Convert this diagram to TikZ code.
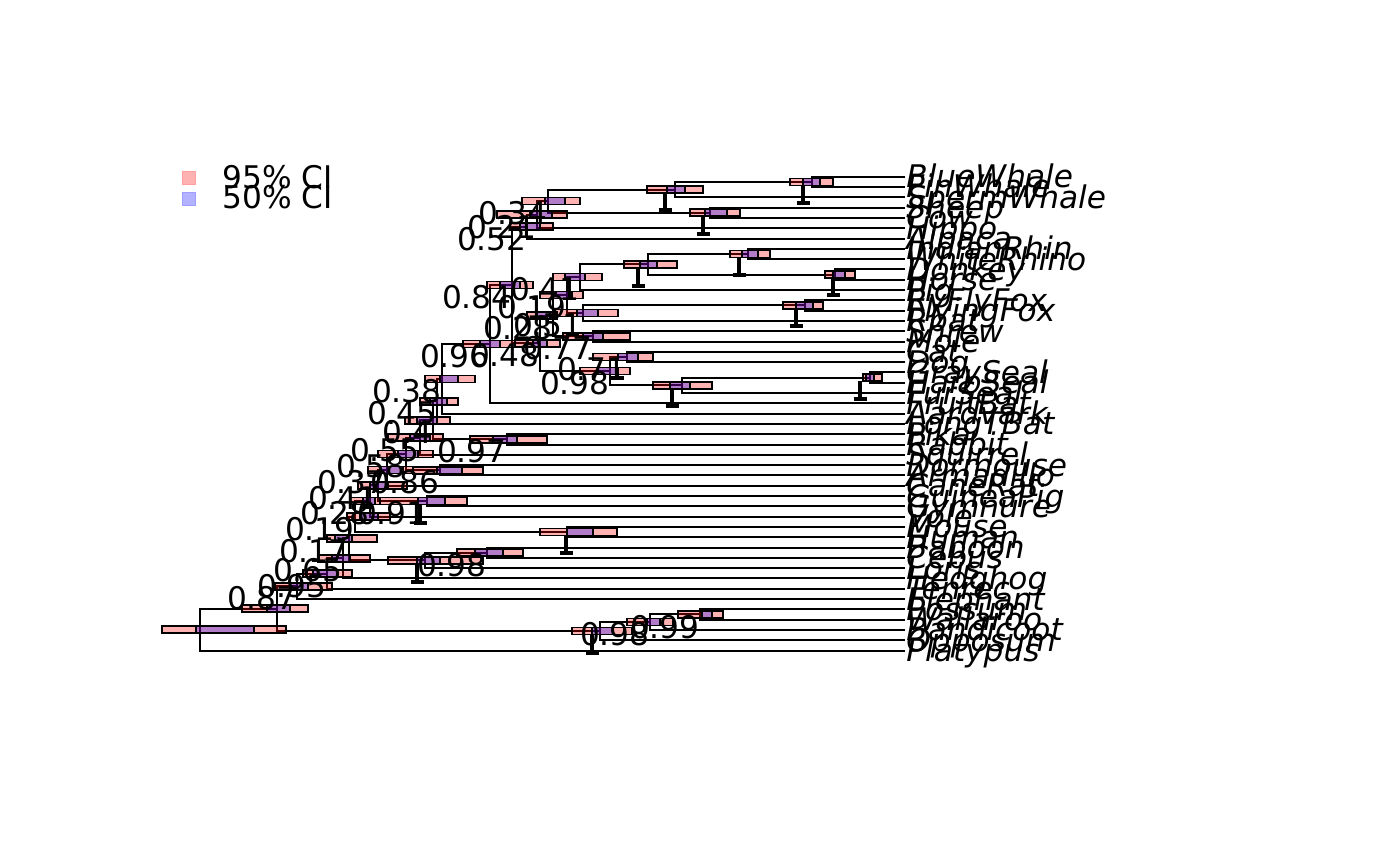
\documentclass[tikz,border=0pt]{standalone}
\usepackage{fontspec}
\setmainfont{DejaVu Sans}
\usepackage{tikz}
\usetikzlibrary{calc}

\tikzset{
  branch/.style={line width=1pt},
  ci95/.style={draw=black, line width=0.8pt, fill=red, fill opacity=0.3},
  ci50/.style={draw=black, line width=0.8pt, fill=blue, fill opacity=0.3},
  errbar/.style={line width=1.6pt},
  tiplab/.style={anchor=base west, inner sep=0pt, font=\fontsize{15.6}{18}\selectfont\itshape},
  supp/.style={anchor=north east, inner sep=0pt, font=\fontsize{15.6}{18}\selectfont},
  legtext/.style={anchor=base west, inner sep=0pt, font=\fontsize{15.6}{18}\selectfont},
}

% box of the 95% and 50% intervals round a node: node, x95l, x50l, x50r, x95r
\newcommand{\cibox}[5]{%
  \draw[ci95] let \p1=(#1) in ({#2*0.5pt},\y1+1.75pt) rectangle ({#5*0.5pt},\y1-1.75pt);
  \draw[ci50] let \p1=(#1) in ({#3*0.5pt},\y1+1.75pt) rectangle ({#4*0.5pt},\y1-1.75pt);}
% error bar under a node: node, x, lower end
\newcommand{\errbar}[3]{%
  \draw[errbar] let \p1=(#1) in ({#2*0.5pt},\y1-1.75pt) -- ({#2*0.5pt},{-#3*0.5pt})
    ({(#2-6.5)*0.5pt},{-#3*0.5pt}) -- ({(#2+6.5)*0.5pt},{-#3*0.5pt});}

\begin{document}
\begin{tikzpicture}[x=0.5pt, y=-0.5pt]
\useasboundingbox (0,0) rectangle (1400,866);

% tips
\foreach \nm [count=\i] in {BlueWhale,FinWhale,SpermWhale,Sheep,Cow,Hippo,Alpaca,
  IndianRhin,WhiteRhino,Donkey,Horse,Pig,RyFlyFox,FlyingFox,Rbat,Shrew,Mole,Cat,Dog,
  GraySeal,HarbSeal,FurSeal,FruitBat,Aardvark,LongTBat,Pika,Rabbit,Squirrel,Dormouse,
  Armadillo,CaneRat,GuineaPig,Gymnure,Vole,Mouse,Human,Baboon,Cebus,Loris,Hedghog,
  Tenrec,Elephant,Possum,Wallaroo,Bandicoot,Opposum,Platypus}{
  \coordinate (t\i) at (905,{176.7+10.3*(\i-1)});
  \node[tiplab] (lab\i) at ([xshift=0.5pt,yshift=-5.5pt]t\i) {\nm};
}

% internal nodes
\coordinate (baleen) at (812,181.85);
\coordinate (whale) at (675,189.58);
\coordinate (bovid) at (710,212.75);
\coordinate (cetru) at (548,201.16);
\coordinate (hippo) at (537,214.68);
\coordinate (artio) at (527,226.59);
\coordinate (rhino) at (748,253.95);
\coordinate (equid) at (835,274.55);
\coordinate (peris) at (648,264.25);
\coordinate (pig) at (580,277.13);
\coordinate (flyfox) at (805,305.45);
\coordinate (rbat) at (583,313.18);
\coordinate (ungbat) at (567,295.15);
\coordinate (eulip) at (593,336.35);
\coordinate (lau1) at (553,315.75);
\coordinate (catdog) at (627,356.95);
\coordinate (seal2) at (870,377.55);
\coordinate (seal3) at (682,385.28);
\coordinate (carn) at (610,371.11);
\coordinate (lau2) at (540,343.43);
\coordinate (lau3) at (512,285.01);
\coordinate (frbat) at (490,344.16);
\coordinate (aard) at (442,378.88);
\coordinate (ltbat) at (437,401.39);
\coordinate (lago) at (507,439.35);
\coordinate (glir1) at (433,420.37);
\coordinate (sqrl) at (420,437.59);
\coordinate (dorm) at (440,470.25);
\coordinate (glir2) at (406,453.92);
\coordinate (armd) at (387,469.81);
\coordinate (cavi) at (427,501.15);
\coordinate (glir3) at (378,485.48);
\coordinate (gymn) at (370,501.04);
\coordinate (murid) at (567,532.05);
\coordinate (glir4) at (355,516.55);
\coordinate (anth) at (487,552.65);
\coordinate (prim) at (425,560.38);
\coordinate (euar) at (349,538.46);
\coordinate (hedg) at (343,558.43);
\coordinate (tenr) at (327,573.57);
\coordinate (eleph) at (297,586.28);
\coordinate (macro) at (700,614.45);
\coordinate (band) at (650,622.18);
\coordinate (marsu) at (600,631.19);
\coordinate (ther) at (277,608.73);
\coordinate (root) at (200,629.62);

% branches
\foreach \p/\a/\b in {baleen/t1/t2, whale/baleen/t3, bovid/t4/t5, cetru/whale/bovid,
  hippo/cetru/t6, artio/hippo/t7, rhino/t8/t9, equid/t10/t11, peris/rhino/equid,
  pig/peris/t12, flyfox/t13/t14, rbat/flyfox/t15, ungbat/pig/rbat, eulip/t16/t17,
  lau1/ungbat/eulip, catdog/t18/t19, seal2/t20/t21, seal3/seal2/t22, carn/catdog/seal3,
  lau2/lau1/carn, lau3/artio/lau2, frbat/lau3/t23, aard/frbat/t24, ltbat/aard/t25,
  lago/t26/t27, glir1/ltbat/lago, sqrl/glir1/t28, dorm/t29/t30, glir2/sqrl/dorm,
  armd/glir2/t31, cavi/t32/t33, glir3/armd/cavi, gymn/glir3/t34, murid/t35/t36,
  glir4/gymn/murid, anth/t37/t38, prim/anth/t39, euar/glir4/prim, hedg/euar/t40,
  tenr/hedg/t41, eleph/tenr/t42, macro/t43/t44, band/macro/t45, marsu/band/t46,
  ther/eleph/marsu, root/ther/t47}
  \draw[branch] (\a) -| (\p) |- (\b);

% node age intervals
\cibox{baleen}{790}{803}{820}{833}
\cibox{whale}{647}{667}{685}{703}
\cibox{bovid}{690}{705}{727}{740}
\cibox{cetru}{522}{545}{565}{580}
\cibox{hippo}{497}{530}{552}{567}
\cibox{artio}{510}{520}{540}{553}
\cibox{rhino}{730}{742}{758}{770}
\cibox{equid}{825}{833}{845}{855}
\cibox{peris}{624}{640}{657}{677}
\cibox{pig}{553}{565}{585}{602}
\cibox{flyfox}{783}{796}{813}{823}
\cibox{rbat}{555}{577}{598}{618}
\cibox{ungbat}{540}{553}{572}{583}
\cibox{eulip}{563}{583}{603}{630}
\cibox{lau1}{527}{537}{550}{557}
\cibox{catdog}{593}{618}{638}{653}
\cibox{seal2}{863}{866}{874}{882}
\cibox{seal3}{653}{670}{690}{712}
\cibox{carn}{580}{598}{618}{630}
\cibox{lau2}{515}{533}{547}{560}
\cibox{lau3}{487}{500}{520}{533}
\cibox{frbat}{463}{480}{500}{515}
\cibox{aard}{425}{440}{458}{475}
\cibox{ltbat}{420}{430}{447}{458}
\cibox{lago}{470}{493}{517}{547}
\cibox{glir1}{405}{417}{437}{450}
\cibox{sqrl}{388}{410}{430}{443}
\cibox{dorm}{413}{437}{462}{483}
\cibox{glir2}{378}{398}{418}{433}
\cibox{armd}{368}{380}{403}{413}
\cibox{cavi}{380}{418}{445}{467}
\cibox{glir3}{358}{370}{388}{407}
\cibox{gymn}{350}{363}{375}{380}
\cibox{murid}{540}{567}{593}{617}
\cibox{glir4}{347}{360}{378}{390}
\cibox{anth}{457}{475}{503}{523}
\cibox{prim}{388}{417}{440}{483}
\cibox{euar}{327}{335}{352}{377}
\cibox{hedg}{318}{332}{350}{370}
\cibox{tenr}{303}{313}{337}{352}
\cibox{eleph}{275}{290}{308}{332}
\cibox{macro}{678}{702}{712}{723}
\cibox{band}{627}{647}{660}{673}
\cibox{marsu}{572}{592}{613}{632}
\cibox{ther}{242}{267}{290}{308}
\cibox{root}{162}{196}{254}{286}

% error bars
\errbar{baleen}{803}{203}
\errbar{whale}{665}{210}
\errbar{bovid}{703}{234}
\errbar{rhino}{739}{275}
\errbar{equid}{833}{295}
\errbar{peris}{638}{286}
\errbar{flyfox}{796}{326}
\errbar{seal2}{860}{399}
\errbar{seal3}{672}{406}
\errbar{carn}{617}{378}
\errbar{murid}{566}{553}
\errbar{prim}{417}{582}
\errbar{cavi}{420}{523}
\errbar{marsu}{592}{653}

% support values
\foreach \p/\v in {cetru/0.34, hippo/0.21, artio/0.52, pig/0.41, ungbat/0.19, rbat/0.51,
  lau1/0.28, eulip/0.77, catdog/0.71, carn/0.98, lau2/0.48, lau3/0.84, frbat/0.96,
  aard/0.38, ltbat/0.45, glir1/0.4, lago/0.97, sqrl/0.55, glir2/0.58, armd/0.37,
  dorm/0.86, glir3/0.41, gymn/0.28, cavi/0.91, glir4/0.19, euar/0.17, anth/0.98,
  hedg/0.65, tenr/0.95, eleph/0.87, macro/0.99, band/0.98}
  \node[supp] (s-\p) at (\p) {\v};

% legend
\fill[red!30, draw=red!38] (182.5,171.5) rectangle (195.5,184.5);
\fill[blue!30, draw=blue!38] (182.5,192.5) rectangle (195.5,205.5);
\node[legtext] (leg95) at (222,188.5) {95\% CI};
\node[legtext] (leg50) at (222,208.5) {50\% CI};
\end{tikzpicture}
\end{document}
